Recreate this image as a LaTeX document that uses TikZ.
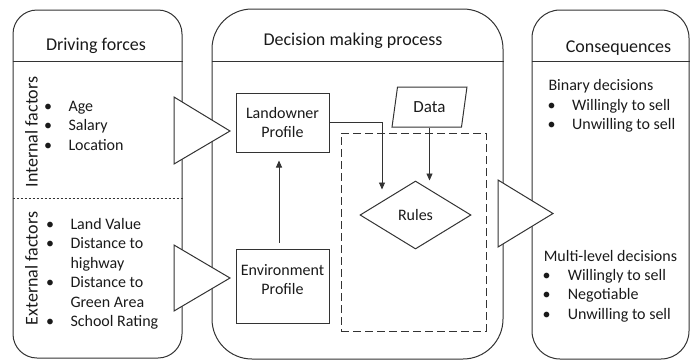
\documentclass[tikz,border=0pt]{standalone}
\usepackage{fontspec}
\setmainfont{Carlito}
\usetikzlibrary{arrows.meta,shapes.geometric}
\definecolor{linegray}{HTML}{333333}
\definecolor{inkblack}{HTML}{1A1A1A}
\begin{document}
\begin{tikzpicture}[x=1pt,y=-1pt,line width=1pt,
  panel/.style={draw=linegray,rounded corners=#1,inner sep=0pt},
  procbox/.style={draw=linegray,inner sep=0pt,align=center,
    font=\fontsize{16}{19}\selectfont,text=inkblack},
  txt/.style={inner sep=0pt,anchor=base,text=inkblack,
    font=\fontsize{16}{19}\selectfont},
  ltxt/.style={txt,anchor=base west},
  head/.style={txt,font=\fontsize{18}{22}\selectfont},
  flowtri/.style={draw=linegray,fill=white,line join=miter},
  arr/.style={draw=linegray,line width=0.9pt,
    -{Triangle[length=7pt,width=6pt]}},
  grpbox/.style={draw=linegray,line width=0.9pt,
    dash pattern=on 8pt off 4pt,inner sep=0pt},
]
\useasboundingbox (0,0) rectangle (690,360);

% ---- three panels ----
\node[panel=24pt,minimum width=169pt,minimum height=348pt] (drv) at (97.5,184) {};
\node[panel=40pt,minimum width=291pt,minimum height=350pt] (dmp) at (357.5,184) {};
\node[panel=28pt,minimum width=157pt,minimum height=349pt] (csq) at (610.5,184.5) {};

\coordinate (hl) at (0,61);
\coordinate (dv) at (0,198);
\draw[linegray] (drv.west |- hl) -- (drv.east |- hl);
\draw[linegray] (dmp.west |- hl) -- (dmp.east |- hl);
\draw[linegray] (csq.west |- hl) -- (csq.east |- hl);
\draw[linegray,line width=0.7pt,dash pattern=on 2.5pt off 1.5pt]
  (drv.west |- dv) -- (drv.east |- dv);

% ---- panel titles ----
\node[head] (drvtitle) at (96,50) {Driving forces};
\node[head] (dmptitle) at (353,45) {Decision making process};
\node[head] (csqtitle) at (618.5,52) {Consequences};

% ---- driving forces ----
\node[head,rotate=90] (intl) at (37.5,132) {Internal factors};
\node[head,rotate=90] (extl) at (37.5,268.5) {External factors};

\node[txt] (ib1) at (48,111.5) {\textbullet};
\node[txt] (ib2) at (48,130.8) {\textbullet};
\node[txt] (ib3) at (48,150) {\textbullet};
\node[ltxt] (it1) at (68,111.5) {Age};
\node[ltxt] (it2) at (68,130.8) {Salary};
\node[ltxt] (it3) at (68,150) {Location};

\node[txt] (eb1) at (50,229) {\textbullet};
\node[txt] (eb2) at (50,248.5) {\textbullet};
\node[txt] (eb3) at (50,287.5) {\textbullet};
\node[txt] (eb4) at (50,326.5) {\textbullet};
\node[ltxt] (et1) at (70,229) {Land Value};
\node[ltxt] (et2) at (70,248.5) {Distance to};
\node[ltxt] (et3) at (70,268) {highway};
\node[ltxt] (et4) at (70,287.5) {Distance to};
\node[ltxt] (et5) at (70,307) {Green Area};
\node[ltxt] (et6) at (70,326.5) {School Rating};

% ---- decision making process ----
\node[grpbox,minimum width=145pt,minimum height=198pt] (grp) at (413.5,232) {};
\node[procbox,minimum width=93pt,minimum height=59pt] (land) at (282.5,122.5)
  {Landowner\\Profile};
\node[procbox,minimum width=93pt,minimum height=74pt] (env) at (282.5,286) {};
\node[procbox,draw=none] (envtxt) at ([yshift=6.6pt]env.center) {Environment\\Profile};
\node[trapezium,trapezium left angle=76,trapezium right angle=104,
  trapezium stretches=true,draw=linegray,inner sep=0pt,
  minimum width=75pt,minimum height=40pt,text=inkblack,
  font=\fontsize{17}{20}\selectfont] (data) at (429.5,107) {Data};
\node[diamond,draw=linegray,aspect=1.63,inner sep=0pt,
  minimum width=111pt,minimum height=68pt,text=inkblack,
  font=\fontsize{16}{19}\selectfont] (rules) at (415.5,215) {Rules};

\draw[arr] ([xshift=-3.5pt,yshift=6pt]env.north) -- ([xshift=-3.5pt,yshift=-8pt]land.south);
\draw[arr] (land.east) -| ([xshift=-33.5pt,yshift=-9pt]rules.north);
\draw[arr] (data.south) -- (data.south |- rules.north);

% ---- consequences ----
\node[ltxt] (bin) at (548,90) {Binary decisions};
\node[txt] (bb1) at (551.7,110) {\textbullet};
\node[txt] (bb2) at (551.7,129) {\textbullet};
\node[ltxt] (bt1) at (571.7,110) {Willingly to sell};
\node[ltxt] (bt2) at (571.7,129) {Unwilling to sell};

\node[ltxt] (mul) at (543.3,261) {Multi-level decisions};
\node[txt] (mb1) at (546.7,280) {\textbullet};
\node[txt] (mb2) at (546.7,299.3) {\textbullet};
\node[txt] (mb3) at (546.7,319) {\textbullet};
\node[ltxt] (mt1) at (567.3,280) {Willingly to sell};
\node[ltxt] (mt2) at (567.3,299.3) {Negotiable};
\node[ltxt] (mt3) at (567.3,319) {Unwilling to sell};

% ---- flow triangles between panels ----
\draw[flowtri] (174,97) -- (174,164) -- (230,131) -- cycle;
\draw[flowtri] (174,245) -- (174,311) -- (230,278) -- cycle;
\draw[flowtri] (498,180) -- (498,247) -- (553,213.5) -- cycle;
\end{tikzpicture}
\end{document}
